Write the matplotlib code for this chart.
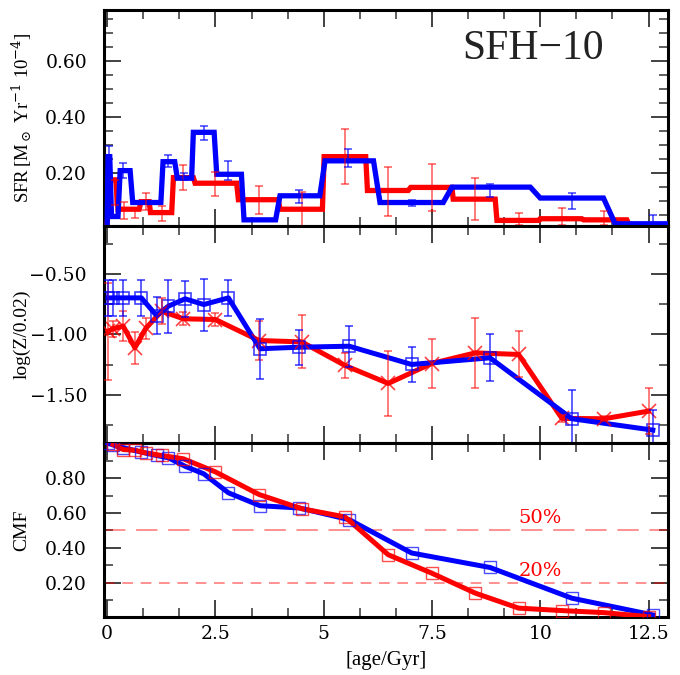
import numpy as np
import matplotlib.pyplot as plt
from matplotlib.ticker import MultipleLocator, FixedLocator

RED = '#ff0000'
BLUE = '#0000ff'

# ---------- SFR panel: step histories (vertices of the drawn polylines) ----------
sfr_red_age = [0.0, 0.08, 0.20, 0.25, 0.74, 0.78, 0.97, 1.00, 1.49, 1.53, 1.99, 2.03,
               2.99, 3.03, 3.95, 3.99, 4.97, 5.01, 5.97, 6.01, 6.95, 7.01, 7.96, 7.99,
               8.96, 9.00, 9.97, 10.00, 10.96, 11.00, 12.00, 12.05]
sfr_red_val = [0.02, 0.175, 0.175, 0.070, 0.070, 0.097, 0.097, 0.058, 0.058, 0.183, 0.183, 0.163,
               0.163, 0.104, 0.104, 0.070, 0.070, 0.258, 0.258, 0.137, 0.137, 0.148, 0.148, 0.106,
               0.106, 0.030, 0.030, 0.036, 0.036, 0.032, 0.032, 0.015]
sfr_blue_age = [0.0, 0.02, 0.06, 0.10, 0.25, 0.30, 0.53, 0.59, 1.24, 1.29, 1.56, 1.62,
                1.95, 1.99, 2.47, 2.53, 3.10, 3.16, 3.89, 3.99, 4.91, 5.03, 6.15, 6.30,
                7.76, 7.96, 9.77, 10.00, 11.46, 11.73, 12.96]
sfr_blue_val = [0.01, 0.258, 0.258, 0.044, 0.044, 0.208, 0.208, 0.094, 0.094, 0.240, 0.240, 0.181,
                0.181, 0.345, 0.345, 0.195, 0.195, 0.032, 0.032, 0.118, 0.118, 0.243, 0.243, 0.094,
                0.094, 0.149, 0.149, 0.110, 0.110, 0.018, 0.018]

# error bars on the SFR bins
sfr_red_eb_age = [0.18, 0.39, 0.64, 0.89, 1.26, 1.76, 2.50, 3.51, 4.49, 5.49, 6.49, 7.49,
                  8.50, 9.50, 10.50, 11.48]
sfr_red_eb_val = [0.13, 0.065, 0.056, 0.097, 0.056, 0.183, 0.160, 0.104, 0.070, 0.258, 0.133, 0.148,
                  0.106, 0.035, 0.044, 0.038]
sfr_red_eb_err = [0.045, 0.030, 0.018, 0.030, 0.027, 0.045, 0.042, 0.050, 0.060, 0.098, 0.089, 0.083,
                  0.075, 0.021, 0.030, 0.024]
sfr_blue_eb_age = [0.05, 0.37, 1.41, 1.78, 2.24, 2.80, 4.44, 5.57, 7.03, 8.84, 10.73, 12.60]
sfr_blue_eb_val = [0.20, 0.208, 0.243, 0.187, 0.342, 0.208, 0.116, 0.253, 0.093, 0.138, 0.099, 0.032]
sfr_blue_eb_err = [0.095, 0.027, 0.021, 0.014, 0.026, 0.035, 0.023, 0.033, 0.011, 0.023, 0.028, 0.018]

# ---------- metallicity panel ----------
z_red_age = [0.02, 0.14, 0.37, 0.64, 0.89, 1.26, 1.76, 2.50, 3.51, 4.49, 5.49, 6.49,
             7.49, 8.50, 9.50, 10.50, 11.48, 12.50]
z_red_val = [-0.973, -0.953, -0.931, -1.110, -0.950, -0.807, -0.870, -0.876, -1.050, -1.061, -1.256, -1.405,
             -1.240, -1.152, -1.165, -1.694, -1.697, -1.634]
z_red_err = [0.40, 0.065, 0.125, 0.13, 0.09, 0.11, 0.055, 0.05, 0.16, 0.22, 0.10, 0.27,
             0.20, 0.29, 0.19, 0.03, 0.02, 0.19]
z_blue_age = [0.02, 0.14, 0.37, 0.79, 1.14, 1.41, 1.80, 2.23, 2.80, 3.53, 4.44, 5.59,
              7.03, 8.84, 10.73, 12.60]
z_blue_val = [-0.697, -0.697, -0.697, -0.697, -0.843, -0.766, -0.705, -0.752, -0.697, -1.118, -1.105, -1.097,
              -1.248, -1.193, -1.697, -1.791]
z_blue_err = [0.146, 0.146, 0.146, 0.146, 0.157, 0.22, 0.15, 0.215, 0.149, 0.247, 0.145, 0.168,
              0.145, 0.193, 0.241, 0.17]

# ---------- cumulative mass fraction ----------
cmf_red_age = [0.14, 0.37, 0.64, 0.89, 1.26, 1.76, 2.50, 3.51, 4.49, 5.49, 6.49,
               7.49, 8.50, 9.50, 10.50, 11.48, 12.50]
cmf_red_val = [0.993, 0.964, 0.960, 0.945, 0.930, 0.911, 0.836, 0.706, 0.625, 0.578, 0.361,
               0.256, 0.141, 0.055, 0.041, 0.029, 0.006]
cmf_blue_age = [0.02, 0.14, 0.37, 0.79, 1.14, 1.41, 1.80, 2.23, 2.80, 3.53, 4.44, 5.59,
                7.03, 8.84, 10.73, 12.60]
cmf_blue_val = [1.0, 0.99, 0.975, 0.949, 0.930, 0.917, 0.868, 0.825, 0.716, 0.642, 0.629, 0.562,
                0.371, 0.288, 0.112, 0.016]

cmf_levels = [0.5, 0.2]
cmf_level_text = ['50%', '20%']

x_ticks = [0, 2.5, 5, 7.5, 10, 12.5]
x_ticklabels = ['0', '2.5', '5', '7.5', '10', '12.5']

plt.rcParams['font.family'] = ['DejaVu Serif']
plt.rcParams['mathtext.fontset'] = 'dejavuserif'

fig = plt.figure(figsize=(6.8, 6.75), dpi=100)
L, W = 0.1525, 0.8305
ax1 = fig.add_axes([L, 0.6656, W, 0.3194])
ax2 = fig.add_axes([L, 0.3433, W, 0.3223])
ax3 = fig.add_axes([L, 0.0864, W, 0.2569])

for ax in (ax1, ax2, ax3):
    ax.set_xlim(-0.08, 12.96)
    ax.xaxis.set_major_locator(FixedLocator(x_ticks))
    ax.xaxis.set_minor_locator(MultipleLocator(2.5 / 3))
    ax.tick_params(which='both', direction='in', top=True, right=True, labelsize=13.5,
                   color='#333333')
    ax.tick_params(which='major', length=12, width=1.3)
    ax.tick_params(axis='y', which='major', pad=12)
    ax.tick_params(which='minor', length=6.5, width=1.1)
    for sp in ax.spines.values():
        sp.set_linewidth(2.2)
    ax.tick_params(axis='x', labelbottom=False)

eb_kw = dict(fmt='none', capsize=3.2, elinewidth=1.1, capthick=1.1)

# SFR
ax1.plot(sfr_red_age, sfr_red_val, color=RED, lw=3.8, solid_joinstyle='miter', zorder=3)
ax1.plot(sfr_blue_age, sfr_blue_val, color=BLUE, lw=3.8, solid_joinstyle='miter', zorder=4)
ax1.errorbar(sfr_red_eb_age, sfr_red_eb_val, yerr=sfr_red_eb_err, ecolor=RED, alpha=0.65, zorder=5, **eb_kw)
ax1.errorbar(sfr_blue_eb_age, sfr_blue_eb_val, yerr=sfr_blue_eb_err, ecolor=BLUE, alpha=0.75, zorder=5, **eb_kw)
ax1.set_ylim(0.011, 0.782)
ax1.yaxis.set_major_locator(FixedLocator([0.2, 0.4, 0.6]))
ax1.yaxis.set_minor_locator(MultipleLocator(0.05))
ax1.set_yticklabels(['0.20', '0.40', '0.60'])
ax1.set_ylabel(r'SFR$\,$[M$_\odot$ Yr$^{-1}$ 10$^{-4}$]', family='Liberation Serif', fontsize=13.5,
               va='center')
ax1.text(0.635, 0.82, 'SFH\u221210', transform=ax1.transAxes, fontsize=30,
         family='Liberation Serif', color='#222222', ha='left', va='center')

# metallicity
ax2.plot(z_red_age, z_red_val, color=RED, lw=3.6, zorder=3)
ax2.plot(z_red_age, z_red_val, 'x', color=RED, ms=10, mew=1.2, alpha=0.75, zorder=4)
ax2.errorbar(z_red_age, z_red_val, yerr=z_red_err, ecolor=RED, alpha=0.65, zorder=5, **eb_kw)
ax2.plot(z_blue_age, z_blue_val, color=BLUE, lw=3.6, zorder=3)
ax2.plot(z_blue_age, z_blue_val, 's', color=BLUE, mfc='none', ms=8.5, mew=1.2, alpha=0.75, zorder=4)
ax2.errorbar(z_blue_age, z_blue_val, yerr=z_blue_err, ecolor=BLUE, alpha=0.8, zorder=5, **eb_kw)
ax2.set_ylim(-1.9, -0.1)
ax2.yaxis.set_major_locator(FixedLocator([-1.5, -1.0, -0.5]))
ax2.yaxis.set_minor_locator(MultipleLocator(0.25))
ax2.set_yticklabels(['\u22121.50', '\u22121.00', '\u22120.50'])
ax2.set_ylabel('log(Z/0.02)', family='Liberation Serif', fontsize=14, va='center')

# CMF
for lev, txt, dash in zip(cmf_levels, cmf_level_text, [(14, 7), (7, 5)]):
    ax3.axhline(lev, color=RED, lw=1.1, alpha=0.55, dashes=dash, zorder=2)
    ax3.text(10.0, lev + 0.07, txt, color=RED, fontsize=14, ha='center', va='center')
ax3.plot(cmf_blue_age, cmf_blue_val, color=BLUE, lw=3.6, zorder=3)
ax3.plot(cmf_blue_age, cmf_blue_val, 's', color=BLUE, mfc='none', ms=8.5, mew=1.0, alpha=0.7, zorder=4)
ax3.plot(cmf_red_age, cmf_red_val, color=RED, lw=3.6, zorder=3)
ax3.plot(cmf_red_age, cmf_red_val, 's', color=RED, mfc='none', ms=8.5, mew=1.0, alpha=0.7, zorder=4)
ax3.set_ylim(0.006, 1.0)
ax3.yaxis.set_major_locator(FixedLocator([0.2, 0.4, 0.6, 0.8]))
ax3.yaxis.set_minor_locator(MultipleLocator(0.1))
ax3.set_yticklabels(['0.20', '0.40', '0.60', '0.80'])
ax3.set_ylabel('CMF', family='Liberation Serif', fontsize=14, va='center')
ax3.tick_params(axis='x', labelbottom=True, pad=6)
ax3.set_xticklabels(x_ticklabels)
ax3.set_xlabel('[age/Gyr]', family='Liberation Serif', fontsize=15, labelpad=6)

for ax in (ax1, ax2, ax3):
    ax.yaxis.set_label_coords(-0.145, 0.5)

fig.savefig('out.png', dpi=100)
